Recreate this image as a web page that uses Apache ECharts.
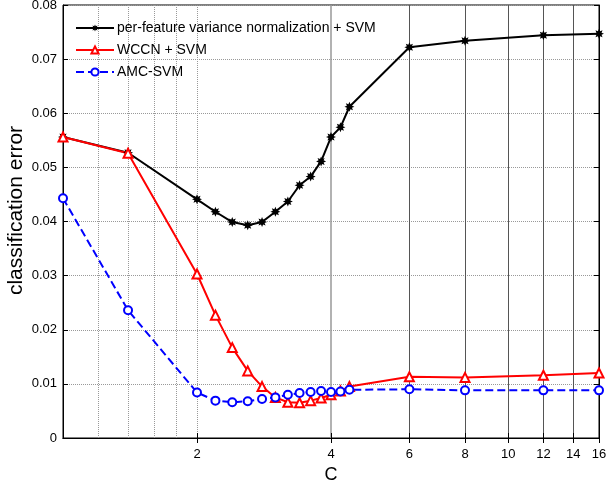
<!DOCTYPE html>
<html>
<head>
<meta charset="utf-8">
<script src="https://cdn.jsdelivr.net/npm/echarts@6/dist/echarts.min.js"></script>
<style>
  html, body { margin: 0; padding: 0; background: #fff; }
  #chart { width: 608px; height: 488px; }
</style>
</head>
<body>
<div id="chart"></div>
<script>
const cValues = [1, 1.4, 2, 2.2, 2.4, 2.6, 2.8, 3, 3.2, 3.4, 3.6, 3.8, 4, 4.2, 4.4, 6, 8, 12, 16];
const featureNormErr = [0.0556, 0.0527, 0.0441, 0.0418, 0.0399, 0.0393, 0.0399, 0.0418, 0.0437, 0.0467, 0.0483, 0.0511, 0.0556, 0.0574, 0.0612, 0.0722, 0.0734, 0.0744, 0.0747];
const wccnErr = [0.0556, 0.0526, 0.0303, 0.0227, 0.0167, 0.0124, 0.0095, 0.0075, 0.0066, 0.0065, 0.0069, 0.0074, 0.0080, 0.0087, 0.0095, 0.0113, 0.0112, 0.0116, 0.0120];
const amcErr = [0.0443, 0.0236, 0.0084, 0.0069, 0.0066, 0.0068, 0.0072, 0.0075, 0.0080, 0.0083, 0.0085, 0.0087, 0.0085, 0.0086, 0.0089, 0.0090, 0.0088, 0.0088, 0.0088];

const xTickLabels = [2, 4, 6, 8, 10, 12, 14, 16];
const minorGrid = [1.2, 1.4, 1.6, 1.8, 2];
const grid4 = [4];
const gridHigh = [6, 8, 10, 12, 14, 16];

const FONT = "Liberation Sans";

// asterisk-like marker
let star = "path://";
for (let i = 0; i < 16; i++) {
  const a = i * Math.PI / 8 - Math.PI / 2;
  const r = i % 2 ? 5.5 : 10;
  star += (i ? "L" : "M") + (r * Math.cos(a)).toFixed(2) + " " + (r * Math.sin(a)).toFixed(2) + " ";
}
star += "Z";

const pairs = (ys) => cValues.map((c, i) => [c, ys[i]]);

const chart = echarts.init(document.getElementById("chart"));

const gridAxis = (values, style, position) => ({
  type: "log",
  logBase: 2,
  min: 1,
  max: 16,
  position: position || "bottom",
  axisLine: { show: false },
  axisLabel: { show: false, customValues: values },
  axisTick: { show: false, customValues: values },
  splitLine: { show: true, lineStyle: style },
});

chart.setOption({
  animation: false,
  textStyle: { fontFamily: FONT },
  grid: {
    left: 63, right: 9, top: 5, bottom: 50,
    outerBoundsMode: "none",
    containLabel: false,
    show: true, borderColor: "#000", borderWidth: 1,
  },
  legend: {
    orient: "vertical",
    left: 70,
    top: 16,
    itemWidth: 38,
    itemHeight: 9,
    itemGap: 8,
    textStyle: { fontFamily: FONT, fontSize: 14, color: "#000", padding: [0, 0, 0, -2] },
    data: ["per-feature variance normalization + SVM", "WCCN + SVM", "AMC-SVM"],
  },
  xAxis: [
    {
      type: "log",
      logBase: 2,
      min: 1,
      max: 16,
      position: "bottom",
      name: "C",
      nameLocation: "middle",
      nameGap: 27,
      nameTextStyle: { fontFamily: FONT, fontSize: 18, color: "#000" },
      axisLine: { show: true, lineStyle: { color: "#000" } },
      axisTick: { inside: true, length: 5, customValues: xTickLabels, lineStyle: { color: "#000" } },
      axisLabel: { customValues: xTickLabels, color: "#000", fontSize: 13, margin: 10, fontFamily: FONT },
      splitLine: { show: false },
    },
    {
      type: "log",
      logBase: 2,
      min: 1,
      max: 16,
      position: "top",
      axisLine: { show: true, lineStyle: { color: "#000" } },
      axisTick: { inside: true, length: 5, customValues: xTickLabels, lineStyle: { color: "#000" } },
      axisLabel: { show: false, customValues: xTickLabels },
      splitLine: { show: false },
    },
    gridAxis(minorGrid, { type: "dotted", color: "#999", width: 1 }),
    gridAxis(grid4, { type: "solid", color: "#999", width: 1.5 }),
    gridAxis(gridHigh, { type: "solid", color: "#555", width: 1 }),
  ],
  yAxis: [
    {
      type: "value",
      min: 0,
      max: 0.08,
      interval: 0.01,
      name: "classification error",
      nameLocation: "middle",
      nameGap: 36,
      nameMoveOverlap: false,
      nameTextStyle: { fontFamily: FONT, fontSize: 21, color: "#000", padding: [0, 0, 0, 22] },
      axisLine: { show: true, lineStyle: { color: "#000" } },
      axisTick: { show: true, inside: true, length: 5, lineStyle: { color: "#000" } },
      axisLabel: { color: "#000", fontSize: 13, margin: 6, fontFamily: FONT },
      splitLine: { show: true, lineStyle: { type: "dotted", color: "#999", width: 1 } },
    },
    {
      type: "value",
      min: 0,
      max: 0.08,
      interval: 0.01,
      position: "right",
      axisLine: { show: true, lineStyle: { color: "#000" } },
      axisTick: { show: true, inside: true, length: 5, lineStyle: { color: "#000" } },
      axisLabel: { show: false },
      splitLine: { show: false },
    },
  ],
  series: [
    {
      name: "per-feature variance normalization + SVM",
      type: "line",
      data: pairs(featureNormErr),
      symbol: star,
      symbolSize: 10,
      lineStyle: { color: "#000", width: 2 },
      itemStyle: { color: "#000" },
    },
    {
      name: "WCCN + SVM",
      type: "line",
      data: pairs(wccnErr),
      symbol: "emptyTriangle",
      symbolSize: 9,
      lineStyle: { color: "#ff0000", width: 2 },
      itemStyle: { color: "#ff0000", borderWidth: 1.2 },
    },
    {
      name: "AMC-SVM",
      type: "line",
      data: pairs(amcErr),
      symbol: "emptyCircle",
      symbolSize: 8,
      lineStyle: { color: "#0000ff", width: 2, type: [8, 4] },
      itemStyle: { color: "#0000ff", borderWidth: 1.2 },
    },
  ],
});
</script>
</body>
</html>
